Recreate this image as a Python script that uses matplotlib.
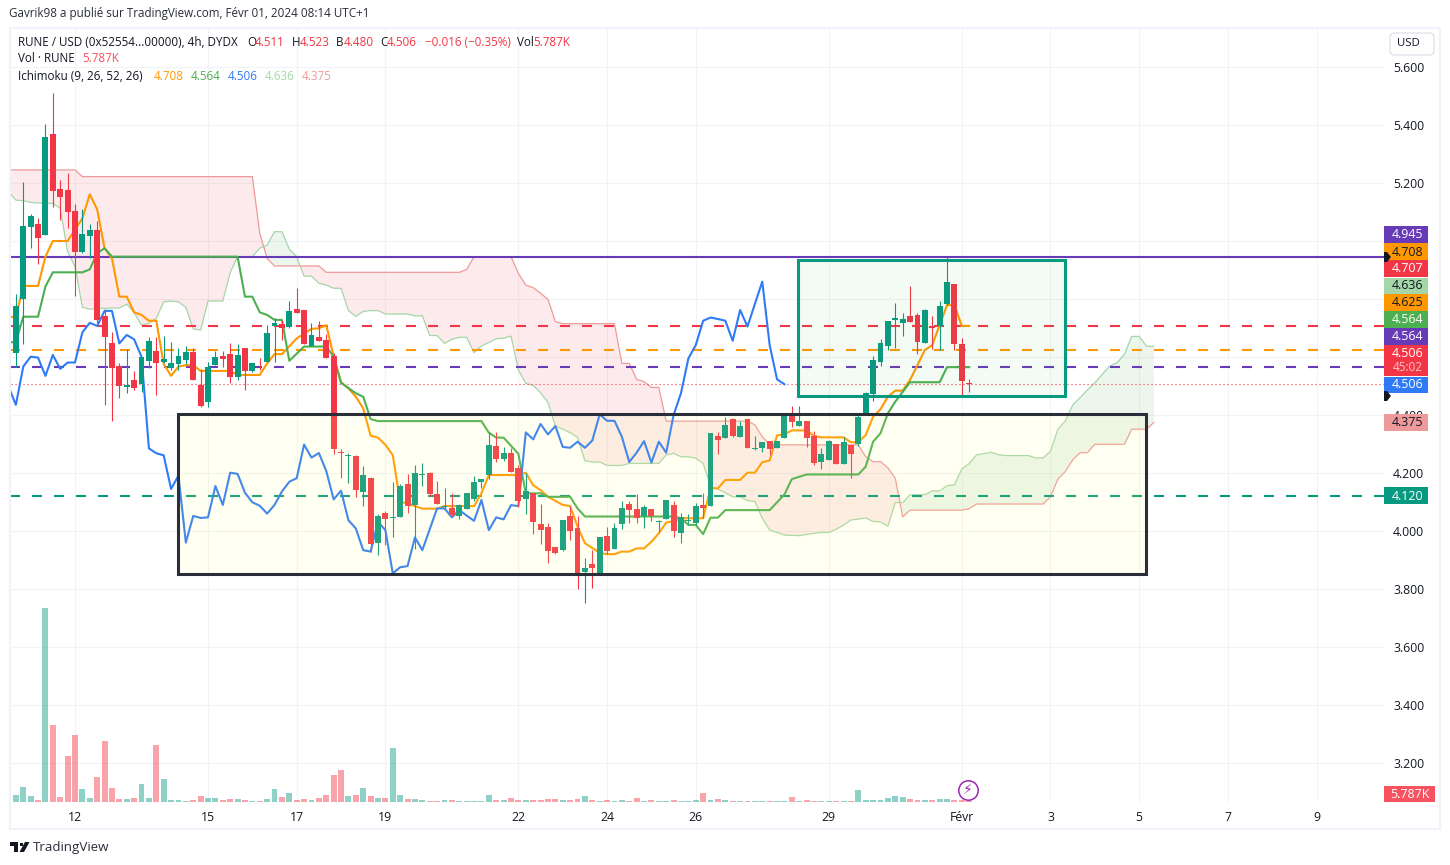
import matplotlib
matplotlib.use('Agg')
import matplotlib.pyplot as plt
from matplotlib.patches import Rectangle, Polygon, FancyBboxPatch

plt.rcParams['font.family'] = ['Open Sans', 'DejaVu Sans']

W, H = 1450, 865
GREEN = '#089981'
RED = '#F23645'
ORANGE = '#FF9800'
KIJUN = '#4CAF50'
BLUE = '#2F7BF5'
SPAN_A = '#A5D6A7'
SPAN_B = '#EF9A9A'
PURPLE = '#673AB7'
INK = '#131722'

# 4h candles, first one is 9 bars before the "12" tick
first_bar = -9
opens = [4.716, 4.615, 4.799, 5.049, 5.059, 5.022, 5.369, 5.179, 5.176, 5.103,
         4.962, 5.017, 5.038, 4.741, 4.648, 4.569, 4.498, 4.521, 4.506, 4.586,
         4.621, 4.583, 4.562, 4.576, 4.590, 4.617, 4.505, 4.445, 4.572, 4.603,
         4.610, 4.531, 4.631, 4.552, 4.580, 4.583, 4.707, 4.714, 4.704, 4.766,
         4.762, 4.638, 4.669, 4.659, 4.603, 4.272, 4.259, 4.259, 4.134, 4.183,
         3.959, 4.062, 4.045, 4.048, 4.162, 4.090, 4.193, 4.200, 4.128, 4.083,
         4.079, 4.052, 4.076, 4.110, 4.169, 4.193, 4.293, 4.248, 4.269, 4.217,
         4.110, 4.131, 4.024, 4.014, 3.945, 3.935, 4.052, 4.010, 3.859, 3.886,
         3.854, 3.983, 3.938, 4.024, 4.093, 4.076, 4.052, 4.076, 4.031, 4.041,
         4.090, 3.992, 4.033, 4.026, 4.090, 4.086, 4.328, 4.321, 4.386, 4.324,
         4.386, 4.282, 4.286, 4.310, 4.286, 4.321, 4.400, 4.362, 4.379, 4.328,
         4.238, 4.245, 4.300, 4.231, 4.297, 4.300, 4.400, 4.472, 4.583, 4.638,
         4.728, 4.717, 4.741, 4.745, 4.648, 4.707, 4.707, 4.783, 4.852, 4.645,
         4.511]
closes = [4.647, 4.776, 5.052, 5.086, 5.010, 5.359, 5.174, 5.152, 5.101, 4.962,
          5.024, 5.038, 4.728, 4.669, 4.562, 4.500, 4.503, 4.493, 4.600, 4.655,
          4.579, 4.593, 4.579, 4.603, 4.617, 4.521, 4.431, 4.565, 4.600, 4.593,
          4.531, 4.607, 4.552, 4.579, 4.578, 4.683, 4.717, 4.700, 4.759, 4.752,
          4.645, 4.676, 4.655, 4.597, 4.283, 4.268, 4.262, 4.141, 4.193, 3.955,
          4.052, 4.041, 4.048, 4.155, 4.086, 4.200, 4.197, 4.128, 4.093, 4.086,
          4.055, 4.090, 4.131, 4.169, 4.179, 4.297, 4.248, 4.269, 4.203, 4.103,
          4.138, 4.031, 4.003, 3.931, 3.924, 4.038, 4.000, 3.852, 3.872, 3.872,
          3.979, 3.931, 4.010, 4.079, 4.072, 4.045, 4.083, 4.052, 4.035, 4.107,
          4.000, 4.049, 4.038, 4.086, 4.080, 4.338, 4.314, 4.366, 4.328, 4.362,
          4.286, 4.285, 4.307, 4.283, 4.310, 4.400, 4.376, 4.379, 4.321, 4.234,
          4.266, 4.310, 4.231, 4.307, 4.266, 4.393, 4.476, 4.590, 4.648, 4.724,
          4.734, 4.731, 4.721, 4.652, 4.762, 4.701, 4.776, 4.859, 4.645, 4.517,
          4.506]
highs = [4.728, 4.817, 5.203, 5.093, 5.079, 5.403, 5.510, 5.210, 5.234, 5.128,
         5.110, 5.059, 5.069, 4.766, 4.686, 4.579, 4.626, 4.552, 4.600, 4.669,
         4.669, 4.672, 4.652, 4.631, 4.638, 4.631, 4.559, 4.583, 4.621, 4.621,
         4.648, 4.645, 4.631, 4.579, 4.597, 4.710, 4.735, 4.728, 4.793, 4.838,
         4.762, 4.717, 4.724, 4.679, 4.613, 4.283, 4.269, 4.262, 4.224, 4.186,
         4.059, 4.069, 4.169, 4.162, 4.197, 4.228, 4.235, 4.203, 4.172, 4.148,
         4.131, 4.093, 4.131, 4.190, 4.179, 4.341, 4.341, 4.290, 4.286, 4.228,
         4.200, 4.131, 4.093, 4.028, 3.945, 4.038, 4.086, 4.052, 3.907, 3.934,
         3.979, 4.014, 4.028, 4.103, 4.103, 4.128, 4.090, 4.076, 4.038, 4.107,
         4.103, 4.061, 4.059, 4.098, 4.130, 4.338, 4.341, 4.393, 4.390, 4.379,
         4.386, 4.328, 4.307, 4.310, 4.310, 4.400, 4.431, 4.431, 4.379, 4.345,
         4.286, 4.314, 4.300, 4.324, 4.297, 4.403, 4.479, 4.603, 4.662, 4.724,
         4.786, 4.752, 4.845, 4.752, 4.766, 4.741, 4.793, 4.946, 4.852, 4.666,
         4.523]
lows = [4.613, 4.567, 4.645, 4.976, 4.921, 5.022, 5.118, 5.072, 5.045, 4.810,
        4.959, 4.941, 4.716, 4.434, 4.379, 4.459, 4.477, 4.486, 4.479, 4.561,
        4.469, 4.578, 4.555, 4.555, 4.576, 4.521, 4.428, 4.428, 4.572, 4.565,
        4.510, 4.521, 4.486, 4.548, 4.555, 4.583, 4.583, 4.659, 4.700, 4.752,
        4.645, 4.638, 4.655, 4.597, 4.266, 4.183, 4.166, 4.117, 4.086, 3.928,
        3.917, 3.952, 3.980, 4.048, 4.062, 3.938, 4.155, 4.121, 4.093, 4.076,
        4.052, 4.041, 4.076, 4.103, 4.148, 4.179, 4.238, 4.241, 4.203, 4.083,
        4.059, 3.990, 3.955, 3.890, 3.921, 3.931, 3.969, 3.800, 3.752, 3.804,
        3.854, 3.921, 3.938, 4.007, 4.028, 4.028, 4.010, 4.035, 3.997, 4.041,
        3.979, 3.957, 4.021, 4.021, 4.044, 4.086, 4.266, 4.321, 4.324, 4.324,
        4.286, 4.279, 4.272, 4.262, 4.286, 4.321, 4.359, 4.362, 4.290, 4.228,
        4.214, 4.245, 4.231, 4.231, 4.183, 4.293, 4.400, 4.448, 4.569, 4.624,
        4.631, 4.672, 4.721, 4.610, 4.648, 4.628, 4.624, 4.779, 4.624, 4.469,
        4.480]
# volume in thousands
volumes = [36, 28, 60, 24, 8, 776, 308, 20, 184, 268,
           52, 16, 100, 244, 56, 12, 12, 16, 72, 16,
           228, 92, 8, 8, 4, 8, 24, 16, 16, 8,
           12, 12, 8, 4, 4, 12, 52, 20, 36, 8,
           12, 8, 16, 28, 108, 128, 24, 28, 56, 24,
           16, 16, 216, 28, 12, 12, 8, 4, 4, 8,
           8, 4, 4, 4, 4, 28, 8, 9, 17, 9,
           9, 9, 9, 13, 13, 9, 9, 13, 25, 9,
           5, 9, 5, 9, 5, 17, 5, 9, 5, 5,
           9, 5, 5, 9, 37, 9, 13, 9, 5, 5,
           5, 5, 5, 5, 5, 5, 21, 5, 9, 5,
           5, 5, 5, 5, 5, 49, 9, 9, 9, 17,
           25, 21, 13, 9, 9, 9, 13, 13, 9, 9,
           5.787]

# lagging span, from the first bar to bar 96
chikou = [4.498, 4.435, 4.567, 4.601, 4.598, 4.535, 4.607, 4.559, 4.581, 4.581,
          4.685, 4.718, 4.707, 4.759, 4.759, 4.647, 4.676, 4.661, 4.601, 4.285,
          4.268, 4.261, 4.145, 4.191, 3.960, 4.052, 4.045, 4.047, 4.155, 4.090,
          4.201, 4.197, 4.132, 4.099, 4.087, 4.060, 4.090, 4.136, 4.170, 4.182,
          4.298, 4.253, 4.269, 4.207, 4.109, 4.139, 4.037, 4.009, 3.934, 3.929,
          4.032, 4.003, 3.854, 3.875, 3.879, 3.978, 3.934, 4.006, 4.078, 4.078,
          4.047, 4.072, 4.053, 4.035, 4.107, 4.003, 4.047, 4.040, 4.089, 4.086,
          4.340, 4.316, 4.369, 4.333, 4.362, 4.290, 4.287, 4.308, 4.287, 4.312,
          4.402, 4.380, 4.380, 4.325, 4.238, 4.270, 4.310, 4.236, 4.308, 4.270,
          4.400, 4.475, 4.595, 4.641, 4.725, 4.736, 4.731, 4.725, 4.656, 4.762,
          4.705, 4.783, 4.860, 4.641, 4.523, 4.506]

# leading spans, from the first bar to bar 146
span_a = [5.170, 5.141, 5.139, 5.133, 5.131, 5.130, 5.130, 5.113, 4.963, 4.912,
          4.771, 4.765, 4.767, 4.768, 4.769, 4.769, 4.782, 4.753, 4.710, 4.716,
          4.733, 4.790, 4.793, 4.790, 4.771, 4.697, 4.693, 4.793, 4.793, 4.793,
          4.891, 4.946, 4.946, 4.946, 4.975, 4.986, 5.032, 5.032, 4.972, 4.946,
          4.879, 4.879, 4.854, 4.848, 4.837, 4.837, 4.760, 4.740, 4.757, 4.760,
          4.760, 4.748, 4.748, 4.748, 4.748, 4.742, 4.742, 4.674, 4.674, 4.647,
          4.661, 4.668, 4.668, 4.615, 4.638, 4.650, 4.663, 4.665, 4.672, 4.555,
          4.509, 4.502, 4.477, 4.443, 4.362, 4.351, 4.339, 4.323, 4.242, 4.238,
          4.238, 4.226, 4.226, 4.226, 4.233, 4.233, 4.233, 4.233, 4.233, 4.262,
          4.268, 4.256, 4.256, 4.251, 4.233, 4.155, 4.144, 4.132, 4.118, 4.118,
          4.105, 4.102, 4.044, 4.003, 3.995, 3.986, 3.985, 3.984, 3.988, 3.992,
          3.995, 3.995, 4.006, 4.020, 4.038, 4.041, 4.045, 4.033, 4.031, 4.017,
          4.098, 4.098, 4.125, 4.125, 4.125, 4.138, 4.138, 4.156, 4.159, 4.214,
          4.232, 4.263, 4.267, 4.271, 4.263, 4.260, 4.260, 4.260, 4.260, 4.252,
          4.252, 4.275, 4.351, 4.379, 4.434, 4.460, 4.486, 4.511, 4.540, 4.569,
          4.580, 4.609, 4.671, 4.671, 4.637, 4.637]
span_b = ([5.245] * 10 + [5.222] * 24 + [5.027, 4.940] + [4.914] * 7 + [4.892] * 19
          + [4.902] + [4.946] * 6 + [4.888, 4.848, 4.839, 4.820, 4.799, 4.722]
          + [4.715] * 8 + [4.578, 4.578, 4.523, 4.515, 4.495, 4.495] + [4.379] * 12
          + [4.366, 4.325, 4.299] + [4.297] * 12 + [4.256, 4.239, 4.239, 4.218, 4.182, 4.049]
          + [4.072] * 8 + [4.077] + [4.093] * 10 + [4.118, 4.179, 4.205, 4.245, 4.270, 4.270]
          + [4.299] * 5 + [4.351, 4.351, 4.351, 4.375])

# (bar, price) corners of the two stepped lines
tenkan = [(-9, 4.738), (-8, 4.738), (-7, 4.845), (-5, 4.845), (-4, 4.946), (-3, 5.000), (-1, 5.000),
          (1, 5.078), (2, 5.161), (3, 5.109), (4, 4.975), (5, 4.940), (6, 4.808), (7, 4.808), (8, 4.754),
          (9, 4.745), (10, 4.725), (11, 4.725), (12, 4.576), (13, 4.535), (14, 4.567), (15, 4.572),
          (16, 4.572), (17, 4.552), (21, 4.552), (22, 4.538), (25, 4.538), (26, 4.578), (27, 4.610),
          (28, 4.610), (30, 4.664), (32, 4.697), (33, 4.699), (34, 4.710), (35, 4.603), (36, 4.513),
          (37, 4.492), (38, 4.463), (39, 4.423), (40, 4.329), (41, 4.322), (42, 4.297), (43, 4.262),
          (44, 4.101), (45, 4.095), (46, 4.086), (47, 4.077), (49, 4.077), (50, 4.086), (54, 4.086),
          (55, 4.130), (56, 4.193), (60, 4.193), (61, 4.201), (62, 4.158), (63, 4.141), (64, 4.118),
          (66, 4.090), (67, 4.086), (68, 4.015), (69, 3.958), (71, 3.925), (72, 3.920), (73, 3.920),
          (74, 3.929), (75, 3.929), (76, 3.940), (77, 3.940), (78, 3.963), (79, 3.992), (80, 4.029),
          (81, 4.034), (82, 4.044), (85, 4.044), (86, 4.147), (87, 4.147), (88, 4.176), (90, 4.176),
          (91, 4.201), (92, 4.201), (93, 4.237), (94, 4.243), (95, 4.330), (96, 4.333), (97, 4.347),
          (99, 4.347), (100, 4.328), (101, 4.323), (104, 4.323), (105, 4.306), (106, 4.306), (107, 4.331),
          (108, 4.394), (109, 4.420), (110, 4.463), (111, 4.484), (112, 4.484), (113, 4.521), (114, 4.572),
          (115, 4.624), (116, 4.641), (117, 4.710), (118, 4.779), (119, 4.779), (120, 4.707), (121, 4.707)]
kijun = [(-9, 4.651), (-8, 4.651), (-7, 4.739), (-5, 4.739), (-4, 4.843), (-3, 4.892), (1, 4.892),
         (2, 4.902), (3, 4.958), (4, 4.975), (5, 4.946), (22, 4.946), (23, 4.808), (24, 4.808), (25, 4.754),
         (26, 4.745), (27, 4.728), (28, 4.728), (29, 4.587), (31, 4.636), (34, 4.636), (35, 4.601),
         (36, 4.511), (38, 4.475), (39, 4.463), (40, 4.386), (41, 4.379), (55, 4.379), (56, 4.339),
         (57, 4.322), (58, 4.322), (60, 4.266), (61, 4.130), (63, 4.130), (64, 4.118), (67, 4.118),
         (68, 4.078), (69, 4.050), (81, 4.050), (82, 4.044), (83, 4.021), (84, 4.021), (85, 3.989),
         (86, 4.046), (87, 4.046), (88, 4.072), (94, 4.072), (96, 4.126), (97, 4.179), (99, 4.195),
         (106, 4.195), (107, 4.222), (108, 4.308), (109, 4.337), (110, 4.406), (111, 4.446), (113, 4.513),
         (117, 4.513), (118, 4.565), (121, 4.565)]

price_ticks = [3.2, 3.4, 3.6, 3.8, 4.0, 4.2, 4.4, 4.6, 4.8, 5.0, 5.2, 5.4, 5.6]
time_ticks = [0, 18, 30, 42, 60, 72, 84, 102, 120, 132, 144, 156, 168]
time_labels = ['12', '15', '17', '19', '22', '24', '26', '29', 'Févr', '3', '5', '7', '9']

resistance = 4.945
dashed_levels = [(4.707, RED), (4.625, ORANGE), (4.564, PURPLE), (4.120, GREEN)]
last_price = 4.506


def fx(px):
    return px / W


def fy(py):
    return 1 - py / H


fig = plt.figure(figsize=(W / 100, H / 100), dpi=100, facecolor='white')
ax = fig.add_axes([fx(11), fy(802), (1384 - 11) / W, (802 - 29) / H])
ax.set_xlim((11 - 75) / 7.39, (1384 - 75) / 7.39)
ax.set_ylim(5.6 - 735 / 290, 5.6 + 38 / 290)
ax.set_axisbelow(True)
for s in ax.spines.values():
    s.set_visible(False)
ax.grid(True, color='#F1F3F6', lw=0.8)
ax.set_xticks(time_ticks)
ax.set_xticklabels(time_labels)
ax.set_yticks(price_ticks)
ax.set_yticklabels(['%.3f' % p for p in price_ticks])

# cloud
bars_all = list(range(first_bar, first_bar + len(span_a)))
ax.fill_between(bars_all, span_a, span_b, where=[a >= b for a, b in zip(span_a, span_b)],
                interpolate=True, color=KIJUN, alpha=0.1, lw=0, zorder=1)
ax.fill_between(bars_all, span_a, span_b, where=[a < b for a, b in zip(span_a, span_b)],
                interpolate=True, color=RED, alpha=0.1, lw=0, zorder=1)
ax.plot(bars_all, span_a, color=SPAN_A, lw=0.9, zorder=1.2)
ax.plot(bars_all, span_b, color=SPAN_B, lw=0.9, zorder=1.2)

# levels
ax.axhline(resistance, color=PURPLE, lw=1.5, zorder=1.5)
left_edge = (10 - 75) / 7.39
for level, col in dashed_levels:
    ax.plot([left_edge, 180], [level, level], color=col, lw=1.5, dashes=(4.8, 5.76),
            dash_capstyle='butt', zorder=1.5)
ax.axhline(last_price, color=RED, lw=0.8, dashes=(1, 2.6), zorder=1.5)

# ichimoku lines
ax.plot(*zip(*tenkan), color=ORANGE, lw=1.5, zorder=2)
ax.plot(*zip(*kijun), color=KIJUN, lw=1.5, zorder=2.1)
ax.plot(range(first_bar, first_bar + len(chikou)), chikou, color=BLUE, lw=1.5, zorder=2.2)

# candles
bars = list(range(first_bar, first_bar + len(opens)))
colors = [GREEN if c >= o else RED for o, c in zip(opens, closes)]
ax.vlines(bars, lows, highs, colors=colors, lw=0.8, zorder=3)
ax.bar(bars, [abs(c - o) for o, c in zip(opens, closes)], bottom=[min(o, c) for o, c in zip(opens, closes)],
       width=0.8, color=colors, lw=0, zorder=3.1)

# drawn rectangles, over the chart
ax.add_patch(Rectangle((13.94, 3.852), 131.0, 0.551, facecolor=(1, 1, 0.5, 0.1),
                       edgecolor='#2A2E39', lw=2.2, zorder=4))
ax.add_patch(Rectangle((97.85, 4.466), 36.13, 0.468, facecolor=(0.3, 0.69, 0.31, 0.06),
                       edgecolor=GREEN, lw=2.2, zorder=4.1))

# volume pane shares the x axis
ax2 = ax.twinx()
ax2.set_ylim(0, (802 - 29) * 4)
ax2.set_xlim(ax.get_xlim())
ax2.axis('off')
ax2.bar(bars, volumes, width=0.8, lw=0, color=colors, alpha=0.45)
ax2.plot([120.8], [48], marker='o', ms=14, mfc='white', mec='#9C27B0', mew=1.1, zorder=6)
ax2.text(120.8, 48, '⚡', color='#9C27B0', fontsize=10, ha='center', va='center',
         family='DejaVu Sans', zorder=7)

# twinx moves the price labels back to the left
ax.yaxis.tick_right()
ax.yaxis.set_label_position('right')
ax.tick_params(axis='both', length=0, labelsize=8.8, labelcolor=INK)
ax.tick_params(axis='y', pad=6.5, labelright=True, labelleft=False)
ax.tick_params(axis='x', pad=6.5)

# frame
fig.add_artist(Rectangle((fx(10), fy(829)), (1440 - 10) / W, (829 - 27.5) / H, transform=fig.transFigure,
                         fill=False, edgecolor='#F0F3FA', lw=1.5, zorder=0.5))

# USD button
fig.add_artist(FancyBboxPatch((fx(1390), fy(55)), 44 / W, 22 / H, transform=fig.transFigure,
                              boxstyle='round,pad=0,rounding_size=0.003', mutation_aspect=W / H,
                              fc='white', ec='#E0E3EB', lw=1, zorder=1))
fig.text(fx(1408), fy(44), 'USD', fontsize=8.2, color=INK, ha='center', va='center')


def badge(y0, y1, bg, label, fg, right=1428, cx=1408):
    fig.add_artist(Rectangle((fx(1384), fy(y1)), (right - 1384) / W, (y1 - y0) / H, transform=fig.transFigure,
                             fc=bg, ec='none', zorder=2))
    fig.text(fx(cx), fy((y0 + y1) / 2), label, color=fg, fontsize=8.9, ha='center', va='center', zorder=3)


badge(226.5, 243.5, PURPLE, '4.945', 'white')
badge(243.5, 260.5, ORANGE, '4.708', INK)
badge(260.5, 277.5, RED, '4.707', 'white')
badge(277.5, 294, SPAN_A, '4.636', INK)
badge(294, 311, ORANGE, '4.625', INK)
badge(311, 328, KIJUN, '4.564', 'white')
badge(328, 345, PURPLE, '4.564', 'white')
badge(345, 376, RED, '', 'white')
fig.text(fx(1408), fy(353.5), '4.506', color='white', fontsize=8.9, ha='center', va='center', zorder=3)
fig.text(fx(1408), fy(367.5), '45:02', color='#FBC4C8', fontsize=8.4, ha='center', va='center', zorder=3)
badge(376.5, 393, BLUE, '4.506', 'white')
badge(414, 431, SPAN_B, '4.375', INK)
badge(487.5, 504.5, GREEN, '4.120', 'white')
badge(786, 802, '#F7525F', '5.787K', 'white', right=1435, cx=1410)

# price scale tags
for yy in (257, 396):
    fig.add_artist(Polygon([(fx(1384), fy(yy - 5)), (fx(1387), fy(yy - 5)), (fx(1391), fy(yy)),
                            (fx(1387), fy(yy + 5)), (fx(1384), fy(yy + 5))], transform=fig.transFigure,
                           fc=INK, ec='none', zorder=4))

# header texts
fig.text(fx(9), fy(13), 'Gavrik98 a publié sur TradingView.com, Févr 01, 2024 08:14 UTC+1',
         fontsize=8.4, color='#2A2E39', va='center')


def legend_line(y, parts):
    for x, txt, col in parts:
        fig.text(fx(x), fy(y), txt, fontsize=8.4, color=col, va='center', zorder=3)


legend_line(42, [(18, 'RUNE / USD (0x52554...00000), 4h, DYDX', INK), (247, 'O', INK), (255, '4.511', RED),
                 (292, 'H', INK), (300, '4.523', RED), (336, 'B', INK), (344, '4.480', RED), (380, 'C', INK),
                 (387, '4.506', RED), (425, '−0.016 (−0.35%)', RED), (517, 'Vol', INK), (533, '5.787K', RED)])
legend_line(59, [(18, 'Vol · RUNE', INK), (82, '5.787K', '#F7525F')])
legend_line(76, [(18, 'Ichimoku (9, 26, 52, 26)', INK), (154, '4.708', ORANGE), (191, '4.564', KIJUN),
                 (228, '4.506', BLUE), (265, '4.636', SPAN_A), (302, '4.375', SPAN_B)])

# TradingView mark
fig.add_artist(Polygon([(fx(10), fy(842)), (fx(18), fy(842)), (fx(18), fy(852)), (fx(14), fy(852)),
                        (fx(14), fy(846)), (fx(10), fy(846))], transform=fig.transFigure, fc=INK, ec='none'))
fig.add_artist(Polygon([(fx(25), fy(842)), (fx(29.5), fy(842)), (fx(24), fy(852)), (fx(19.5), fy(852))],
                       transform=fig.transFigure, fc=INK, ec='none'))
fig.add_artist(Polygon([(fx(19.5), fy(842.5)), (fx(22.5), fy(842.5)), (fx(22.5), fy(846)), (fx(19.5), fy(846))],
                       transform=fig.transFigure, fc=INK, ec='none'))
fig.text(fx(33), fy(847), 'TradingView', fontsize=9.6, color='#2A2E39', va='center')

fig.savefig('out.png', dpi=100)
